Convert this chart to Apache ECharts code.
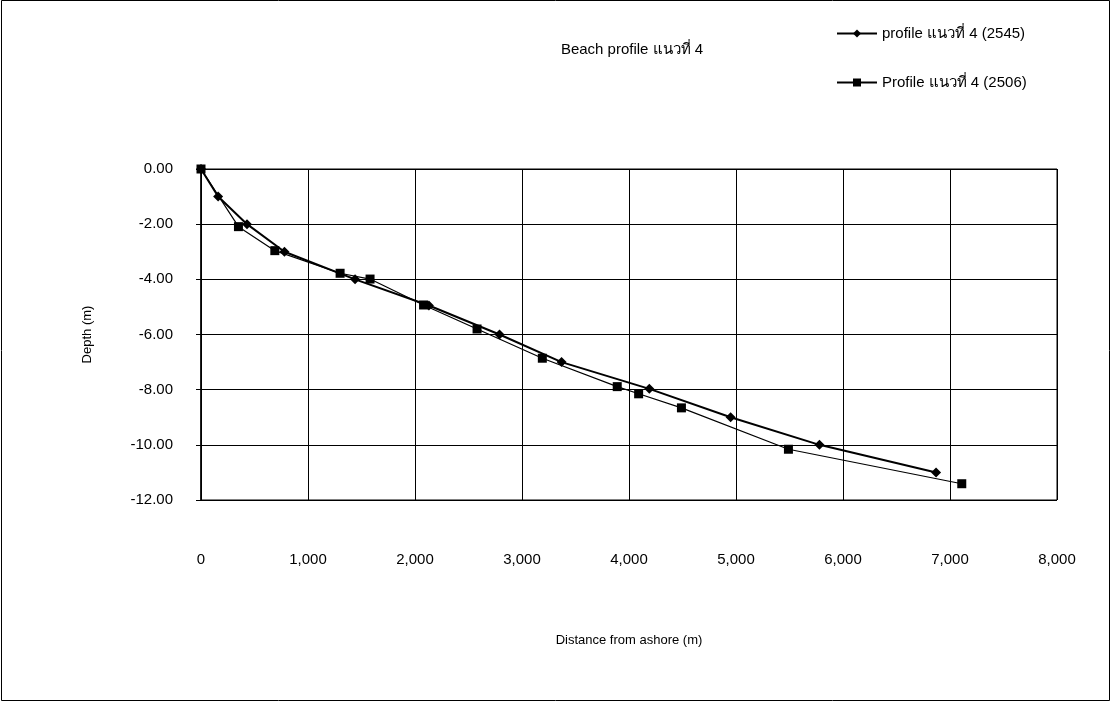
<!DOCTYPE html>
<html>
<head>
<meta charset="utf-8">
<script src="https://cdn.jsdelivr.net/npm/echarts@6/dist/echarts.min.js"></script>
<style>
  html, body { margin: 0; padding: 0; background: #fff; }
  #chart { width: 1114px; height: 703px; }
</style>
</head>
<body>
<div id="chart"></div>
<script>
  // distance (m) / depth (m)
  const dist2545 = [0, 160, 430, 780, 1440, 2130, 2790, 3370, 4190, 4950, 5780, 6870];
  const depth2545 = [0, -1.0, -2.0, -3.0, -4.0, -4.95, -6.0, -7.0, -7.97, -9.0, -10.0, -11.0];

  const dist2506 = [0, 350, 690, 1300, 1580, 2080, 2580, 3190, 3890, 4090, 4490, 5490, 7110];
  const depth2506 = [0, -2.09, -2.96, -3.78, -3.99, -4.93, -5.8, -6.86, -7.89, -8.15, -8.66, -10.16, -11.41];

  const seriesNames = ['profile แนวที่ 4 (2545)', 'Profile แนวที่ 4 (2506)'];

  const font = '"Liberation Sans", Arial, "Noto Sans", sans-serif';

  const chart = echarts.init(document.getElementById('chart'));

  const pairs = (xs, ys) => xs.map((x, i) => [x, ys[i]]);

  chart.setOption({
    animation: false,
    textStyle: { fontFamily: font, color: '#000' },
    title: {
      text: 'Beach profile แนวที่ 4',
      left: 627,
      top: 37,
      textAlign: 'center',
      textStyle: { fontSize: 15, fontWeight: 'normal', color: '#000', fontFamily: font }
    },
    legend: {
      orient: 'vertical',
      left: 831,
      top: 21,
      itemGap: 34,
      itemWidth: 40,
      itemHeight: 10,
      textStyle: { fontSize: 15, color: '#000', fontFamily: font },
      data: seriesNames
    },
    graphic: [{
      type: 'rect',
      shape: { x: 1.5, y: 0.5, width: 1108, height: 700 },
      style: { fill: 'none', stroke: '#000', lineWidth: 1 },
      silent: true
    }],
    grid: { left: 201, right: 57, top: 169, bottom: 203, show: true, borderColor: '#000', borderWidth: 1 },
    xAxis: {
      type: 'value',
      min: 0, max: 8000, interval: 1000,
      name: 'Distance from ashore (m)',
      nameLocation: 'middle',
      nameGap: 134,
      nameTextStyle: { fontSize: 13, color: '#000', fontFamily: font },
      axisLine: { show: false },
      axisTick: { show: false },
      axisLabel: {
        margin: 52, fontSize: 15, color: '#000', fontFamily: font,
        formatter: v => v.toLocaleString('en-US')
      },
      splitLine: { show: true, lineStyle: { color: '#000', width: 1 } }
    },
    yAxis: {
      type: 'value',
      min: -12, max: 0, interval: 2,
      name: 'Depth (m)',
      nameLocation: 'middle',
      nameGap: 107,
      nameRotate: 90,
      nameTextStyle: { fontSize: 13, color: '#000', fontFamily: font },
      axisLine: { show: true, lineStyle: { color: '#000', width: 1.5 } },
      axisTick: { show: true, length: 5, lineStyle: { color: '#000' } },
      axisLabel: {
        margin: 28, fontSize: 15, color: '#000', fontFamily: font,
        formatter: v => v.toFixed(2)
      },
      splitLine: { show: true, lineStyle: { color: '#000', width: 1 } }
    },
    series: [
      {
        name: seriesNames[0],
        type: 'line',
        data: pairs(dist2545, depth2545),
        symbol: 'diamond',
        symbolSize: 10,
        lineStyle: { color: '#000', width: 2 },
        itemStyle: { color: '#000' },
        z: 3
      },
      {
        name: seriesNames[1],
        type: 'line',
        data: pairs(dist2506, depth2506),
        symbol: 'rect',
        symbolSize: 9,
        lineStyle: { color: '#000', width: 1.2 },
        itemStyle: { color: '#000' },
        z: 2
      }
    ]
  });
</script>
</body>
</html>
